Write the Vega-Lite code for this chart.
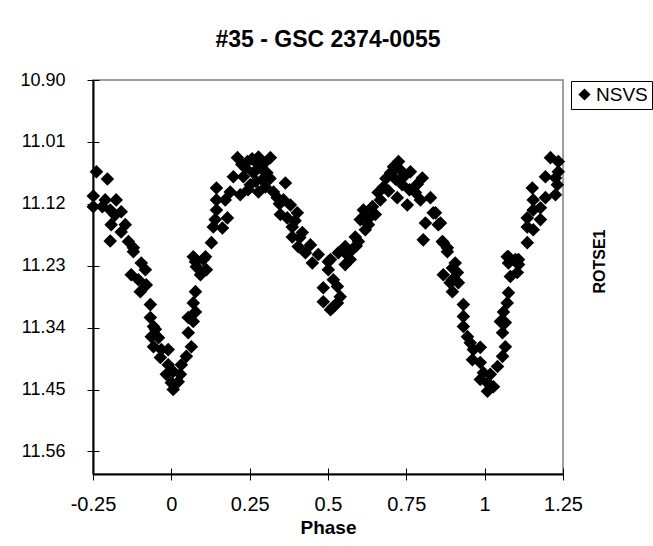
{
  "$schema": "https://vega.github.io/schema/vega-lite/v6.json",
  "width": 470,
  "height": 394,
  "autosize": {"type": "none"},
  "padding": {"left": 93, "top": 80, "right": 90, "bottom": 72},
  "background": "white",
  "config": {"font": "Liberation Sans", "view": {"stroke": "#808080", "strokeWidth": 1.5}},
  "title": {"text": "#35 - GSC 2374-0055", "fontSize": 23, "fontWeight": "bold", "font": "Liberation Sans", "color": "black", "anchor": "middle", "offset": 19},
  "data": {"values": [
    {"phase": -0.239, "mag": 11.063}, {"phase": -0.204, "mag": 11.076}, {"phase": -0.249, "mag": 11.106}, {"phase": -0.249, "mag": 11.125},
    {"phase": -0.211, "mag": 11.113}, {"phase": -0.176, "mag": 11.113}, {"phase": -0.195, "mag": 11.131}, {"phase": -0.160, "mag": 11.134},
    {"phase": -0.192, "mag": 11.157}, {"phase": -0.147, "mag": 11.157}, {"phase": -0.195, "mag": 11.186}, {"phase": -0.137, "mag": 11.187},
    {"phase": -0.121, "mag": 11.198}, {"phase": -0.096, "mag": 11.225}, {"phase": -0.121, "mag": 11.205}, {"phase": -0.128, "mag": 11.246},
    {"phase": -0.105, "mag": 11.255}, {"phase": -0.080, "mag": 11.264}, {"phase": -0.099, "mag": 11.276}, {"phase": -0.067, "mag": 11.299},
    {"phase": -0.067, "mag": 11.322}, {"phase": -0.057, "mag": 11.338}, {"phase": -0.064, "mag": 11.356}, {"phase": -0.041, "mag": 11.358},
    {"phase": -0.057, "mag": 11.374}, {"phase": -0.032, "mag": 11.379}, {"phase": -0.035, "mag": 11.393}, {"phase": -0.010, "mag": 11.379},
    {"phase": -0.010, "mag": 11.406}, {"phase": -0.016, "mag": 11.423}, {"phase": 0.006, "mag": 11.418}, {"phase": 0.000, "mag": 11.438},
    {"phase": 0.022, "mag": 11.436}, {"phase": 0.006, "mag": 11.450}, {"phase": 0.029, "mag": 11.423}, {"phase": 0.032, "mag": 11.406},
    {"phase": 0.048, "mag": 11.391}, {"phase": 0.064, "mag": 11.374}, {"phase": 0.054, "mag": 11.349}, {"phase": 0.070, "mag": 11.329},
    {"phase": 0.054, "mag": 11.322}, {"phase": 0.077, "mag": 11.312}, {"phase": 0.070, "mag": 11.296}, {"phase": 0.077, "mag": 11.276},
    {"phase": 0.080, "mag": 11.232}, {"phase": 0.102, "mag": 11.219}, {"phase": 0.093, "mag": 11.246}, {"phase": 0.112, "mag": 11.237},
    {"phase": 0.077, "mag": 11.223}, {"phase": 0.070, "mag": 11.214}, {"phase": 0.109, "mag": 11.214}, {"phase": 0.128, "mag": 11.189},
    {"phase": 0.134, "mag": 11.161}, {"phase": 0.140, "mag": 11.148}, {"phase": 0.144, "mag": 11.131}, {"phase": 0.144, "mag": 11.113},
    {"phase": 0.144, "mag": 11.092}, {"phase": 0.179, "mag": 11.145}, {"phase": 0.163, "mag": 11.163}, {"phase": 0.198, "mag": 11.072},
    {"phase": 0.188, "mag": 11.099}, {"phase": 0.220, "mag": 11.104}, {"phase": 0.211, "mag": 11.038}, {"phase": 0.243, "mag": 11.045},
    {"phase": 0.278, "mag": 11.037}, {"phase": 0.316, "mag": 11.038}, {"phase": 0.230, "mag": 11.072}, {"phase": 0.262, "mag": 11.065},
    {"phase": 0.284, "mag": 11.056}, {"phase": 0.252, "mag": 11.086}, {"phase": 0.278, "mag": 11.099}, {"phase": 0.300, "mag": 11.090},
    {"phase": 0.326, "mag": 11.099}, {"phase": 0.364, "mag": 11.083}, {"phase": 0.338, "mag": 11.109}, {"phase": 0.358, "mag": 11.113},
    {"phase": 0.380, "mag": 11.122}, {"phase": 0.348, "mag": 11.139}, {"phase": 0.402, "mag": 11.136}, {"phase": 0.386, "mag": 11.161},
    {"phase": 0.418, "mag": 11.171}, {"phase": 0.386, "mag": 11.179}, {"phase": 0.405, "mag": 11.196}, {"phase": 0.428, "mag": 11.207},
    {"phase": 0.450, "mag": 11.225}, {"phase": 0.501, "mag": 11.223}, {"phase": 0.501, "mag": 11.237}, {"phase": 0.533, "mag": 11.207},
    {"phase": 0.485, "mag": 11.269}, {"phase": 0.485, "mag": 11.294}, {"phase": 0.508, "mag": 11.308}, {"phase": 0.530, "mag": 11.296},
    {"phase": 0.508, "mag": 11.219}, {"phase": 0.517, "mag": 11.255}, {"phase": 0.539, "mag": 11.285}, {"phase": 0.517, "mag": 11.303},
    {"phase": 0.530, "mag": 11.267}, {"phase": 0.555, "mag": 11.196}, {"phase": 0.571, "mag": 11.219}, {"phase": 0.587, "mag": 11.179},
    {"phase": 0.603, "mag": 11.148}, {"phase": 0.613, "mag": 11.131}, {"phase": 0.635, "mag": 11.143}, {"phase": 0.642, "mag": 11.125},
    {"phase": 0.667, "mag": 11.113}, {"phase": 0.677, "mag": 11.090}, {"phase": 0.709, "mag": 11.054}, {"phase": 0.731, "mag": 11.060},
    {"phase": 0.763, "mag": 11.063}, {"phase": 0.801, "mag": 11.074}, {"phase": 0.737, "mag": 11.086}, {"phase": 0.721, "mag": 11.109},
    {"phase": 0.753, "mag": 11.122}, {"phase": 0.779, "mag": 11.100}, {"phase": 0.795, "mag": 11.113}, {"phase": 0.827, "mag": 11.109},
    {"phase": 0.811, "mag": 11.154}, {"phase": 0.836, "mag": 11.136}, {"phase": 0.859, "mag": 11.154}, {"phase": 0.804, "mag": 11.184},
    {"phase": 0.868, "mag": 11.189}, {"phase": 0.897, "mag": 11.234}, {"phase": 0.890, "mag": 11.260}, {"phase": 0.913, "mag": 11.242},
    {"phase": 0.843, "mag": 11.136}, {"phase": 0.852, "mag": 11.157}, {"phase": 0.865, "mag": 11.187}, {"phase": 0.881, "mag": 11.198},
    {"phase": 0.906, "mag": 11.225}, {"phase": 1.076, "mag": 11.214}, {"phase": 1.108, "mag": 11.219}, {"phase": 1.136, "mag": 11.189},
    {"phase": 1.136, "mag": 11.161}, {"phase": 1.155, "mag": 11.166}, {"phase": 1.178, "mag": 11.148}, {"phase": 1.136, "mag": 11.145},
    {"phase": 1.155, "mag": 11.131}, {"phase": 1.178, "mag": 11.127}, {"phase": 1.155, "mag": 11.113}, {"phase": 1.152, "mag": 11.092},
    {"phase": 1.194, "mag": 11.109}, {"phase": 1.226, "mag": 11.104}, {"phase": 1.194, "mag": 11.072}, {"phase": 1.226, "mag": 11.074},
    {"phase": 1.232, "mag": 11.086}, {"phase": 1.210, "mag": 11.038}, {"phase": 1.235, "mag": 11.045}, {"phase": 1.235, "mag": 11.063},
    {"phase": 0.881, "mag": 11.205}, {"phase": 0.868, "mag": 11.246}, {"phase": 0.897, "mag": 11.255}, {"phase": 0.916, "mag": 11.260},
    {"phase": 0.897, "mag": 11.276}, {"phase": 0.932, "mag": 11.299}, {"phase": 0.932, "mag": 11.320}, {"phase": 0.932, "mag": 11.338},
    {"phase": 0.945, "mag": 11.356}, {"phase": 0.954, "mag": 11.367}, {"phase": 0.964, "mag": 11.379}, {"phase": 0.986, "mag": 11.375},
    {"phase": 0.961, "mag": 11.397}, {"phase": 0.986, "mag": 11.402}, {"phase": 0.996, "mag": 11.420}, {"phase": 1.018, "mag": 11.423},
    {"phase": 0.986, "mag": 11.432}, {"phase": 1.009, "mag": 11.438}, {"phase": 1.009, "mag": 11.453}, {"phase": 1.028, "mag": 11.445},
    {"phase": 1.041, "mag": 11.409}, {"phase": 1.057, "mag": 11.391}, {"phase": 1.066, "mag": 11.374}, {"phase": 1.057, "mag": 11.349},
    {"phase": 1.066, "mag": 11.331}, {"phase": 1.050, "mag": 11.329}, {"phase": 1.060, "mag": 11.312}, {"phase": 1.072, "mag": 11.296},
    {"phase": 1.076, "mag": 11.278}, {"phase": 1.076, "mag": 11.225}, {"phase": 1.098, "mag": 11.219}, {"phase": 1.082, "mag": 11.249},
    {"phase": 1.104, "mag": 11.242}, {"phase": 1.072, "mag": 11.214}, {"phase": 1.108, "mag": 11.228},
    {"phase": 0.619, "mag": 11.166}, {"phase": 0.578, "mag": 11.201}, {"phase": 0.651, "mag": 11.139}, {"phase": 0.693, "mag": 11.097},
    {"phase": 0.715, "mag": 11.076}, {"phase": 0.555, "mag": 11.228}, {"phase": 0.597, "mag": 11.187}, {"phase": 0.629, "mag": 11.157},
    {"phase": 0.236, "mag": 11.056}, {"phase": 0.268, "mag": 11.045}, {"phase": 0.290, "mag": 11.077}, {"phase": 0.172, "mag": 11.113},
    {"phase": -0.083, "mag": 11.237}, {"phase": -0.051, "mag": 11.343}, {"phase": 0.444, "mag": 11.193}, {"phase": 0.469, "mag": 11.210},
    {"phase": 0.225, "mag": 11.050}, {"phase": 0.258, "mag": 11.040}, {"phase": 0.296, "mag": 11.048}, {"phase": 0.305, "mag": 11.065},
    {"phase": 0.270, "mag": 11.080}, {"phase": 0.245, "mag": 11.095}, {"phase": 0.315, "mag": 11.075}, {"phase": 0.700, "mag": 11.065},
    {"phase": 0.745, "mag": 11.070}, {"phase": 0.760, "mag": 11.095}, {"phase": 0.725, "mag": 11.045}, {"phase": 0.785, "mag": 11.085},
    {"phase": -0.220, "mag": 11.125}, {"phase": -0.180, "mag": 11.140}, {"phase": -0.160, "mag": 11.170}, {"phase": 0.345, "mag": 11.120},
    {"phase": 0.370, "mag": 11.145}, {"phase": 0.395, "mag": 11.150}, {"phase": 0.410, "mag": 11.180}, {"phase": 0.560, "mag": 11.210},
    {"phase": 0.590, "mag": 11.195}, {"phase": 0.620, "mag": 11.140}, {"phase": 0.660, "mag": 11.100}, {"phase": 0.685, "mag": 11.075}
  ]},
  "layer": [
    {
      "mark": {"type": "point", "shape": "diamond", "filled": true, "size": 185, "opacity": 1, "color": "black", "strokeWidth": 0},
      "encoding": {
        "x": {"field": "phase", "type": "quantitative", "scale": {"domain": [-0.25, 1.25], "nice": false, "zero": false},
          "axis": {"orient": "bottom", "values": [-0.25, 0, 0.25, 0.5, 0.75, 1, 1.25], "labelExpr": "'' + datum.value", "grid": false,
            "tickSize": 6, "tickColor": "black", "tickWidth": 1, "domainColor": "black", "domainWidth": 2,
            "labelFontSize": 20, "labelColor": "black", "labelPadding": 14, "labelFlush": false, "labelOverlap": false,
            "title": "Phase", "titleFontSize": 19, "titleFontWeight": "bold", "titleColor": "black", "titlePadding": 4}},
        "y": {"field": "mag", "type": "quantitative", "scale": {"domain": [10.9, 11.6], "reverse": true, "nice": false, "zero": false},
          "axis": {"orient": "left", "values": [10.9, 11.01, 11.12, 11.23, 11.34, 11.45, 11.56], "format": ".2f", "grid": false,
            "tickSize": 6, "tickColor": "black", "tickWidth": 1, "domainColor": "black", "domainWidth": 2,
            "labelFontSize": 18, "labelColor": "black", "labelPadding": 22, "labelFlush": false, "labelOverlap": false, "title": null}},
        "shape": {"datum": "NSVS", "type": "nominal", "scale": {"range": ["diamond"]},
          "legend": {"orient": "none", "legendX": 478, "legendY": 1, "title": null, "labelFontSize": 19, "labelFont": "Liberation Sans",
            "labelColor": "black", "symbolType": "diamond", "symbolSize": 150, "symbolFillColor": "black", "symbolStrokeColor": "black",
            "symbolStrokeWidth": 0, "strokeColor": "black", "fillColor": "white", "padding": 4, "labelOffset": 2, "symbolOffset": 0}}
      }
    },
    {
      "mark": {"type": "point", "opacity": 0},
      "encoding": {
        "x": {"field": "phase", "type": "quantitative",
          "axis": {"orient": "bottom", "values": [-0.25, 0, 0.25, 0.5, 0.75, 1, 1.25], "labels": false, "domain": false, "grid": false,
            "tickSize": -6, "tickColor": "black", "tickWidth": 1, "title": null}},
        "y": {"field": "mag", "type": "quantitative",
          "axis": {"orient": "left", "values": [10.9, 11.01, 11.12, 11.23, 11.34, 11.45, 11.56], "labels": false, "domain": false, "grid": false,
            "tickSize": -6, "tickColor": "black", "tickWidth": 1, "title": null}}
      }
    },
    {
      "mark": {"type": "point", "opacity": 0},
      "encoding": {
        "x": {"field": "phase", "type": "quantitative", "axis": null},
        "y": {"field": "mag", "type": "quantitative",
          "axis": {"orient": "right", "labels": false, "ticks": false, "domain": false, "grid": false,
            "title": "ROTSE1", "titleFontSize": 16, "titleFontWeight": "bold", "titleColor": "black", "titleAngle": 270,
            "titleX": 36, "titleY": 181, "titleAlign": "center", "titleBaseline": "middle"}}
      }
    }
  ],
  "resolve": {"axis": {"x": "independent", "y": "independent"}}
}
